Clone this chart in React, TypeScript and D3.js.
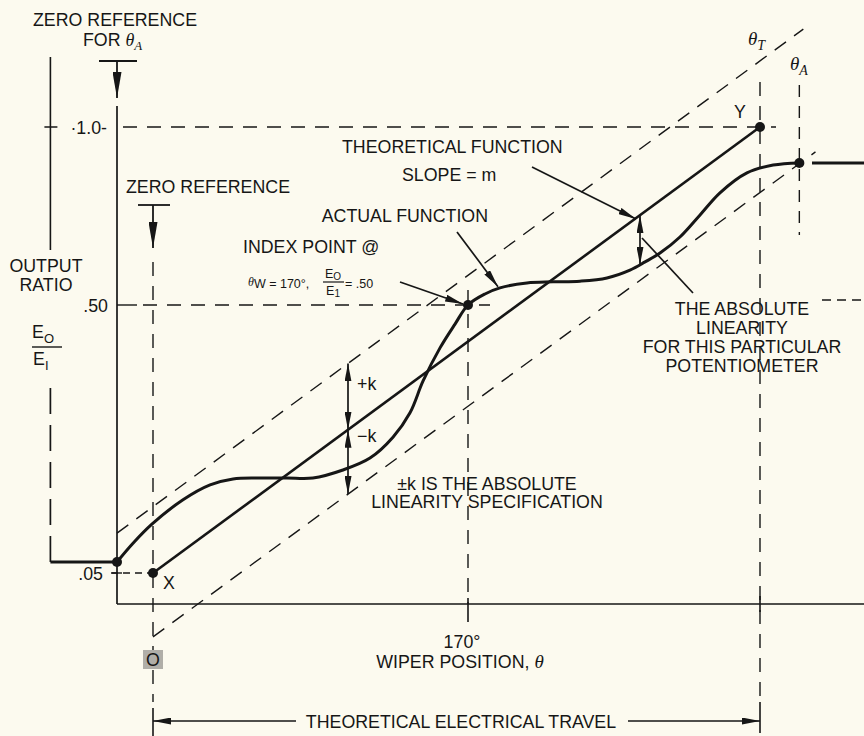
import React from "react";
import * as d3 from "d3";

const WIDTH = 864;
const HEIGHT = 736;

// ---------- schematic data: wiper angle θ (degrees) vs output ratio Eo/Ei ----------
const thetaBracket = -57;      // left output-ratio bracket
const thetaAxisStart = -20;    // zero reference for θA (ratio axis)
const thetaZero = 0;           // zero reference
const thetaIndex = 170;        // index point
const thetaT = 340;            // end of theoretical electrical travel
const thetaA = 362.7;          // end of actual travel
const thetaRightEnd = 400;

const ratioTicks = [1.0, 0.5, 0.05];
const ratioTickLabels = ["·1.0-", ".50", ".05"];
const thetaTicks = [170];
const thetaTickLabels = ["170°"];

const theoryTheta = [0, 340];
const theoryRatio = [0.05, 1.0];

const upperBandTheta = [-20, 365];
const upperBandRatio = [0.117, 1.275];
const lowerBandTheta = [0, 372];
const lowerBandRatio = [-0.053, 0.93];

const actualTheta = [
  -20, -11.1, -0.6, 16.2, 30.8, 43.2, 57.7, 72.3, 86.3, 102.5, 117.1, 129.5,
  138.7, 145.7, 154.9, 163.0, 170, 179.9, 188.6, 204.3, 219.5, 235.2, 250.9,
  264.3, 273.1, 281.8, 293.4, 305.1, 316.7, 332.4, 347.6, 362.7,
];
const actualRatio = [
  0.0685, 0.1, 0.132, 0.173, 0.198, 0.208, 0.2095, 0.2095, 0.2095, 0.223, 0.243,
  0.278, 0.319, 0.372, 0.428, 0.468, 0.5, 0.531, 0.548, 0.562, 0.565, 0.567,
  0.576, 0.598, 0.621, 0.646, 0.691, 0.753, 0.815, 0.871, 0.893, 0.899,
];
const actualStartRatio = 0.0685;
const actualEndRatio = 0.899;
const actualRightStart = 370;

const INK = "#161616";
const BG = "#fcfaef";
const SANS = "'Liberation Sans', Arial, Helvetica, sans-serif";
const SERIF = "'Liberation Serif', 'DejaVu Serif', serif";
const FS = 17.8;
const DASH = "14 10";

type P = [number, number];

function lerpAt(pts: P[], px: number): number {
  for (let i = 0; i < pts.length - 1; i++) {
    const [x0, y0] = pts[i];
    const [x1, y1] = pts[i + 1];
    if ((px >= x0 && px <= x1) || i === pts.length - 2) {
      return y0 + ((px - x0) / (x1 - x0)) * (y1 - y0);
    }
  }
  return pts[0][1];
}

export default function App() {
  const x = d3
    .scaleLinear()
    .domain([thetaAxisStart, thetaZero, thetaIndex, thetaT, thetaRightEnd])
    .range([117, 153, 468, 760, 864]);
  const y = d3.scaleLinear().domain([0, 0.05, 0.5, 1.0]).range([604, 573, 305, 127]);

  const actualPts: P[] = actualTheta.map((t, i) => [x(t), y(actualRatio[i])]);
  const theoryPts: P[] = theoryTheta.map((t, i) => [x(t), y(theoryRatio[i])]);
  const upperPts: P[] = upperBandTheta.map((t, i) => [x(t), y(upperBandRatio[i])]);
  const lowerPts: P[] = lowerBandTheta.map((t, i) => [x(t), y(lowerBandRatio[i])]);

  const curve = d3.line<P>().curve(d3.curveCatmullRom.alpha(0.5));
  const straight = d3.line<P>();

  const xAxisStart = x(thetaAxisStart);
  const xZero = x(thetaZero);
  const xIdx = x(thetaIndex);
  const xT = x(thetaT);
  const xA = x(thetaA);
  const xBr = x(thetaBracket);
  const y0 = y(0);
  const y1 = y(1.0);
  const y50 = y(0.5);
  const y05 = y(0.05);

  // ±k arrows
  const kx = 348;
  const kU = lerpAt(upperPts, kx);
  const kT = lerpAt(theoryPts, kx);
  const kL = lerpAt(lowerPts, kx);
  // actual deviation arrow
  const dx = 640;
  const dT = lerpAt(theoryPts, dx);
  const dA = lerpAt(actualPts, dx);

  const dots: P[] = [
    [x(thetaAxisStart), y(actualStartRatio)],
    [x(theoryTheta[0]), y(theoryRatio[0])],
    [xIdx, y(0.5)],
    [x(theoryTheta[1]), y(theoryRatio[1])],
    [xA, y(actualEndRatio)],
  ];

  const tfTipX = 636;
  const afTipX = 498;

  return (
    <div style={{ position: "absolute", left: 0, top: 0, width: WIDTH, height: HEIGHT }}>
      <svg width={WIDTH} height={HEIGHT} style={{ display: "block" }} fontFamily={SANS}>
        <defs>
          <marker id="ah" viewBox="0 0 14 7" refX="14" refY="3.5" markerWidth="14" markerHeight="7"
            markerUnits="userSpaceOnUse" orient="auto-start-reverse">
            <path d="M0,0L14,3.5L0,7Z" fill={INK} />
          </marker>
          <marker id="ahBig" viewBox="0 0 26 9" refX="26" refY="4.5" markerWidth="26" markerHeight="9"
            markerUnits="userSpaceOnUse" orient="auto-start-reverse">
            <path d="M0,0L26,4.5L0,9Z" fill={INK} />
          </marker>
          <marker id="ahMid" viewBox="0 0 18 7" refX="18" refY="3.5" markerWidth="18" markerHeight="7"
            markerUnits="userSpaceOnUse" orient="auto-start-reverse">
            <path d="M0,0L18,3.5L0,7Z" fill={INK} />
          </marker>
        </defs>
        <rect x={0} y={0} width={WIDTH} height={HEIGHT} fill={BG} />

        {/* ---------- dashed reference lines ---------- */}
        <g stroke={INK} strokeWidth={1.4} fill="none">
          {/* 1.0 */}
          <line x1={xAxisStart + 6} y1={y1} x2={776} y2={y1} strokeDasharray={DASH} />
          {/* .50 */}
          <line x1={xAxisStart} y1={y50} x2={xAxisStart + 20} y2={y50} />
          <line x1={xAxisStart + 26} y1={y50} x2={490} y2={y50} strokeDasharray={DASH} />
          {/* .05 */}
          <line x1={xAxisStart - 6} y1={y05} x2={xZero} y2={y05} strokeDasharray="7 5" />
          {/* zero reference vertical */}
          <line x1={xZero} y1={262} x2={xZero} y2={702} strokeDasharray={DASH} />
          <line x1={xZero} y1={708} x2={xZero} y2={736} strokeWidth={1.6} />
          {/* 170° vertical */}
          <line x1={xIdx} y1={290} x2={xIdx} y2={y0} strokeDasharray={DASH} />
          <line x1={xIdx} y1={y0 - 6} x2={xIdx} y2={y0 + 18} strokeWidth={1.6} />
          {/* θT vertical */}
          <line x1={xT} y1={82} x2={xT} y2={698} strokeDasharray={DASH} />
          <line x1={xT} y1={y0 - 8} x2={xT} y2={y0 + 8} strokeWidth={1.6} />
          <line x1={xT} y1={702} x2={xT} y2={733} strokeWidth={1.6} />
          {/* θA vertical */}
          <line x1={xA} y1={85} x2={xA} y2={235} strokeDasharray="12 9" />
          {/* short dashed on right */}
          <line x1={822} y1={300} x2={864} y2={300} strokeDasharray="9 6" />
          {/* ±k band */}
          <path d={straight(upperPts) || ""} strokeDasharray={DASH} />
          <path d={straight(lowerPts) || ""} strokeDasharray={DASH} />
        </g>

        {/* ---------- axes ---------- */}
        <g stroke={INK} fill="none">
          <line x1={xAxisStart} y1={106} x2={xAxisStart} y2={y0} strokeWidth={1.7} />
          <line x1={xAxisStart} y1={y0} x2={WIDTH} y2={y0} strokeWidth={1.7} />
          {/* .05 tick cross */}
          <line x1={xAxisStart - 5} y1={y05} x2={xAxisStart + 5} y2={y05} strokeWidth={1.4} />
          {/* left output-ratio bracket */}
          <line x1={xBr} y1={57} x2={xBr} y2={250} strokeWidth={1.6} />
          <line x1={xBr} y1={y(actualStartRatio)} x2={xBr} y2={385} strokeWidth={1.7} strokeDasharray="26 11" />
          <line x1={xBr - 6} y1={y1} x2={xBr + 7} y2={y1} strokeWidth={1.5} />
          {/* zero reference for θA */}
          <line x1={xAxisStart - 18} y1={61} x2={xAxisStart + 20} y2={61} strokeWidth={1.8} />
          <line x1={xAxisStart} y1={61} x2={xAxisStart} y2={98} strokeWidth={1.8} markerEnd="url(#ahBig)" />
          {/* zero reference */}
          <line x1={xZero - 15} y1={205} x2={xZero + 17} y2={205} strokeWidth={1.8} />
          <line x1={xZero} y1={205} x2={xZero} y2={248} strokeWidth={1.8} markerEnd="url(#ahBig)" />
        </g>

        {/* ---------- functions ---------- */}
        <path d={straight(theoryPts) || ""} stroke={INK} strokeWidth={2.6} fill="none" />
        <path d={curve(actualPts) || ""} stroke={INK} strokeWidth={3} fill="none" strokeLinecap="round" />
        <line x1={xBr} y1={y(actualStartRatio)} x2={xAxisStart} y2={y(actualStartRatio)} stroke={INK} strokeWidth={3} />
        <line x1={x(actualRightStart)} y1={y(actualEndRatio)} x2={WIDTH} y2={y(actualEndRatio)} stroke={INK} strokeWidth={3} />
        {dots.map((d, i) => (
          <circle key={i} cx={d[0]} cy={d[1]} r={5} fill={INK} />
        ))}

        {/* ---------- annotation arrows ---------- */}
        <g stroke={INK} strokeWidth={1.7} fill="none">
          <line x1={kx} y1={kT} x2={kx} y2={kU} markerStart="url(#ahMid)" markerEnd="url(#ahMid)" />
          <line x1={kx} y1={kT} x2={kx} y2={kL} markerStart="url(#ahMid)" markerEnd="url(#ahMid)" />
          <line x1={dx} y1={dT} x2={dx} y2={dA} markerStart="url(#ahMid)" markerEnd="url(#ahMid)" />
          <line x1={532} y1={167} x2={tfTipX} y2={lerpAt(theoryPts, tfTipX) + 1} markerEnd="url(#ahMid)" />
          <line x1={457} y1={232} x2={afTipX} y2={lerpAt(actualPts, afTipX) - 2} markerEnd="url(#ahMid)" />
          <line x1={400} y1={282} x2={xIdx - 5} y2={y50 - 1} markerEnd="url(#ahMid)" />
          <line x1={dx + 2} y1={238} x2={693} y2={293} />
          {/* theoretical electrical travel */}
          <line x1={296} y1={721} x2={xZero} y2={721} markerEnd="url(#ahMid)" />
          <line x1={628} y1={721} x2={xT} y2={721} markerEnd="url(#ahMid)" />
        </g>

        {/* ---------- texts ---------- */}
        <g fill={INK} fontSize={FS}>
          <text x={115} y={26} textAnchor="middle">ZERO REFERENCE</text>
          <text x={83} y={46}>
            FOR{" "}
            <tspan fontFamily={SERIF} fontStyle="italic" fontSize={18}>θ</tspan>
            <tspan fontFamily={SERIF} fontStyle="italic" fontSize={13} dy={4}>A</tspan>
          </text>

          {ratioTicks.map((v, i) => (
            <text key={i} x={i === 0 ? 107 : i === 1 ? 108 : 103} y={y(v) + 6.5} textAnchor="end">
              {ratioTickLabels[i]}
            </text>
          ))}
          {thetaTicks.map((v, i) => (
            <text key={i} x={x(v) - 6} y={648} textAnchor="middle">{thetaTickLabels[i]}</text>
          ))}

          <text x={46} y={272} textAnchor="middle">OUTPUT</text>
          <text x={46} y={291} textAnchor="middle">RATIO</text>
          <text x={32} y={338}>
            E<tspan fontSize={13} dy={5}>O</tspan>
          </text>
          <line x1={32} y1={347} x2={62} y2={347} stroke={INK} strokeWidth={1.4} />
          <text x={33} y={365}>
            E<tspan fontSize={13} dy={5}>I</tspan>
          </text>

          <text x={163} y={589}>X</text>
          <text x={740} y={118} textAnchor="middle">Y</text>

          <text x={748} y={45}>
            <tspan fontFamily={SERIF} fontStyle="italic" fontSize={19}>θ</tspan>
            <tspan fontFamily={SERIF} fontStyle="italic" fontSize={14} dy={5}>T</tspan>
          </text>
          <text x={790} y={70}>
            <tspan fontFamily={SERIF} fontStyle="italic" fontSize={19}>θ</tspan>
            <tspan fontFamily={SERIF} fontStyle="italic" fontSize={14} dy={5}>A</tspan>
          </text>

          <text x={208} y={193} textAnchor="middle">ZERO REFERENCE</text>
          <text x={342} y={153}>THEORETICAL FUNCTION</text>
          <text x={402} y={181}>SLOPE = m</text>
          <text x={488} y={222} textAnchor="end">ACTUAL FUNCTION</text>
          <text x={243} y={253}>INDEX POINT @</text>

          <text x={248} y={288} fontSize={12.5}>
            <tspan fontFamily={SERIF} fontStyle="italic" fontSize={12} dy={-2}>θ</tspan>
            <tspan dy={2}>W = 170°,</tspan>
          </text>
          <text x={333} y={278} fontSize={12.5} textAnchor="middle">
            E<tspan fontSize={10} dy={2}>O</tspan>
          </text>
          <line x1={323} y1={282} x2={344} y2={282} stroke={INK} strokeWidth={1.2} />
          <text x={333} y={295} fontSize={12.5} textAnchor="middle">
            E<tspan fontSize={10} dy={2}>1</tspan>
          </text>
          <text x={345} y={288} fontSize={12.5}>= .50</text>

          <text x={742} y={315} textAnchor="middle">THE ABSOLUTE</text>
          <text x={742} y={334} textAnchor="middle">LINEARITY</text>
          <text x={742} y={353} textAnchor="middle">FOR THIS PARTICULAR</text>
          <text x={742} y={372} textAnchor="middle">POTENTIOMETER</text>

          <text x={357} y={390}>+k</text>
          <text x={357} y={442}>−k</text>
          <text x={487} y={490} textAnchor="middle">±k IS THE ABSOLUTE</text>
          <text x={487} y={508} textAnchor="middle">LINEARITY SPECIFICATION</text>

          <text x={460} y={668} textAnchor="middle">
            WIPER POSITION,{" "}
            <tspan fontFamily={SERIF} fontStyle="italic" fontSize={19}>θ</tspan>
          </text>

          <rect x={xZero - 10} y={650} width={20} height={19} fill="#b0aea8" />
          <text x={xZero} y={666} textAnchor="middle">O</text>

          <text x={461} y={728} textAnchor="middle">THEORETICAL ELECTRICAL TRAVEL</text>
        </g>
      </svg>
    </div>
  );
}
